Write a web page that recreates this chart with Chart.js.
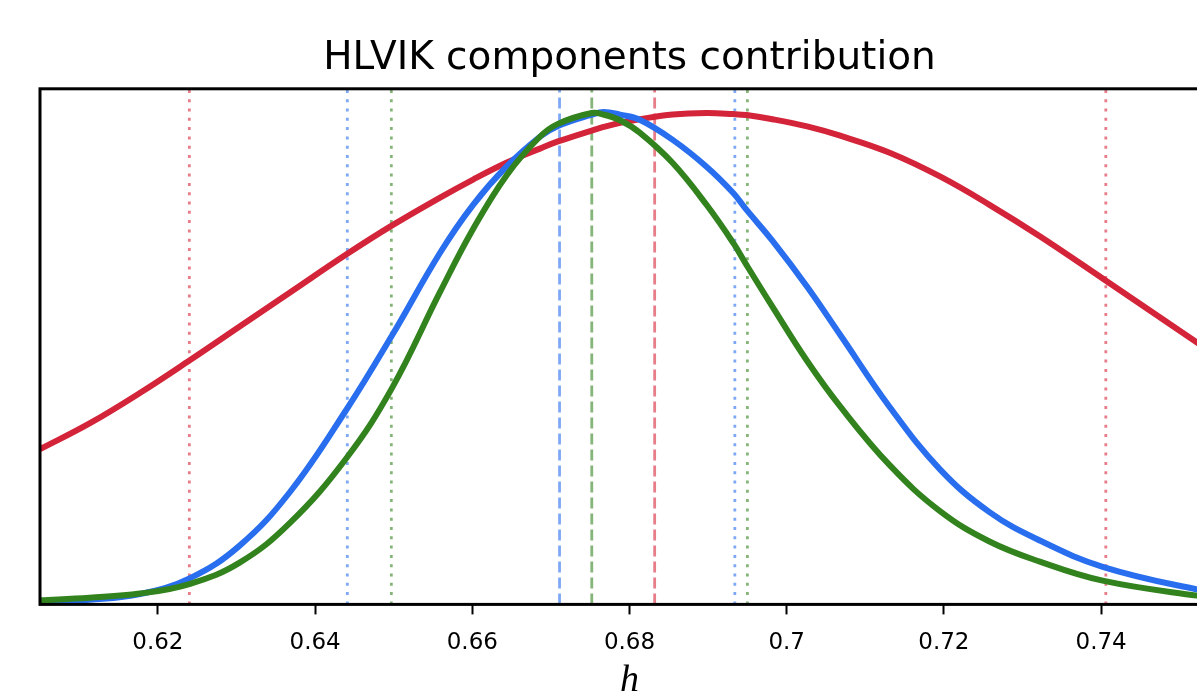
<!DOCTYPE html>
<html>
<head>
<meta charset="utf-8">
<title>HLVIK components contribution</title>
<script src="https://cdn.jsdelivr.net/npm/chart.js@4/dist/chart.umd.min.js"></script>
<style>
  html, body { margin: 0; padding: 0; background: #fff; }
  #wrap { width: 1197px; height: 694px; overflow: hidden; }
  canvas { display: block; }
</style>
</head>
<body>
<div id="wrap"><canvas id="chart" width="1230" height="695"></canvas></div>
<script>
// h samples (shared by the three curves)
const hValues = [0.605, 0.6113, 0.6177, 0.6241, 0.6304, 0.6368, 0.644, 0.6498, 0.6559, 0.6601,
  0.6644, 0.6686, 0.6709, 0.6752, 0.6767, 0.6788, 0.6813, 0.6855, 0.6898, 0.6932,
  0.6949, 0.6982, 0.7026, 0.7068, 0.7131, 0.7195, 0.7258, 0.7322, 0.7402, 0.7522, 0.755];

// curve heights, as a fraction of the plot height
const redDensity = [0.301, 0.351, 0.410, 0.474, 0.539, 0.605, 0.679, 0.735, 0.789, 0.824,
  0.857, 0.884, 0.898, 0.919, 0.926, 0.934, 0.941, 0.950, 0.953, 0.951,
  0.949, 0.941, 0.927, 0.909, 0.876, 0.830, 0.775, 0.714, 0.632, 0.508, 0.479];
const blueDensity = [0.004, 0.009, 0.020, 0.051, 0.114, 0.218, 0.378, 0.522, 0.682, 0.775,
  0.850, 0.907, 0.928, 0.950, 0.955, 0.950, 0.940, 0.901, 0.849, 0.798,
  0.765, 0.705, 0.616, 0.523, 0.383, 0.262, 0.179, 0.124, 0.073, 0.029, 0.025];
const greenDensity = [0.008, 0.013, 0.021, 0.040, 0.081, 0.158, 0.284, 0.420, 0.606, 0.728,
  0.833, 0.907, 0.932, 0.953, 0.950, 0.939, 0.915, 0.856, 0.775, 0.701,
  0.658, 0.577, 0.472, 0.384, 0.270, 0.181, 0.122, 0.083, 0.046, 0.017, 0.014];

// median (dashed) and interval bounds (dotted)
const redMedian = 0.6832;
const redBounds = [0.6240, 0.7406];
const blueMedian = 0.6711;
const blueBounds = [0.6441, 0.6934];
const greenMedian = 0.6752;
const greenBounds = [0.6497, 0.6950];

const tickValues = [0.62, 0.64, 0.66, 0.68, 0.70, 0.72, 0.74];
const tickLabels = ['0.62', '0.64', '0.66', '0.68', '0.7', '0.72', '0.74'];

const RED = 'rgb(212, 36, 58)';
const BLUE = 'rgb(40, 110, 238)';
const GREEN = 'rgb(50, 130, 30)';
const RED_LIGHT = 'rgba(214, 38, 58, 0.6)';
const BLUE_LIGHT = 'rgba(40, 110, 238, 0.6)';
const GREEN_LIGHT = 'rgba(52, 132, 30, 0.6)';

const DASHED = [11, 5];
const DOTTED = [3, 6.3];

function curve (label, values, color, order) {
  return {
    label,
    order,
    data: hValues.map((h, i) => ({ x: h, y: values[i] })),
    borderColor: color,
    borderWidth: 6,
    pointRadius: 0,
    tension: 0.4,
    fill: false
  };
}

function vline (x, color, dash) {
  return {
    order: 3,
    data: [{ x, y: 0 }, { x, y: 1 }],
    borderColor: color,
    borderWidth: 2.8,
    borderDash: dash,
    pointRadius: 0,
    tension: 0,
    fill: false
  };
}

// matplotlib style box around the plot
const frame = {
  id: 'frame',
  afterDatasetsDraw (chart) {
    const { ctx, chartArea: a } = chart;
    ctx.save();
    ctx.strokeStyle = '#000';
    ctx.lineWidth = 3;
    ctx.strokeRect(a.left, a.top, a.right - a.left, a.bottom - a.top);
    ctx.restore();
  }
};

const datasets = [
  curve('green', greenDensity, GREEN, 0),
  curve('blue', blueDensity, BLUE, 1),
  curve('red', redDensity, RED, 2),
  vline(redMedian, RED_LIGHT, DASHED),
  vline(blueMedian, BLUE_LIGHT, DASHED),
  vline(greenMedian, GREEN_LIGHT, DASHED)
];
redBounds.forEach(b => datasets.push(vline(b, RED_LIGHT, DOTTED)));
blueBounds.forEach(b => datasets.push(vline(b, BLUE_LIGHT, DOTTED)));
greenBounds.forEach(b => datasets.push(vline(b, GREEN_LIGHT, DOTTED)));

new Chart(document.getElementById('chart'), {
  type: 'line',
  data: { datasets },
  options: {
    responsive: false,
    devicePixelRatio: 1,
    animation: false,
    layout: { padding: { left: 40, right: 11, top: 0, bottom: 0 } },
    plugins: {
      legend: { display: false },
      tooltip: { enabled: false },
      title: {
        display: true,
        text: 'HLVIK components contribution',
        color: '#000',
        font: { family: 'DejaVu Sans', size: 39, weight: 'normal' },
        padding: { top: 35, bottom: 7 }
      }
    },
    scales: {
      x: {
        type: 'linear',
        min: 0.605,
        max: 0.755,
        afterBuildTicks: axis => {
          axis.ticks = tickValues.map(v => ({ value: v }));
        },
        ticks: {
          color: '#000',
          font: { family: 'DejaVu Sans', size: 23 },
          padding: 15,
          maxRotation: 0,
          autoSkip: false,
          callback: (v, i) => tickLabels[i]
        },
        grid: {
          drawOnChartArea: false,
          drawTicks: true,
          tickLength: 10,
          tickWidth: 2,
          tickColor: '#000',
          color: '#000'
        },
        border: { display: false },
        title: {
          display: true,
          text: 'h',
          color: '#000',
          font: { family: 'Liberation Serif', style: 'italic', size: 38, lineHeight: 0.5 },
          padding: { top: 0, bottom: 4 }
        }
      },
      y: {
        display: false,
        min: 0,
        max: 1
      }
    }
  },
  plugins: [frame]
});
</script>
</body>
</html>
